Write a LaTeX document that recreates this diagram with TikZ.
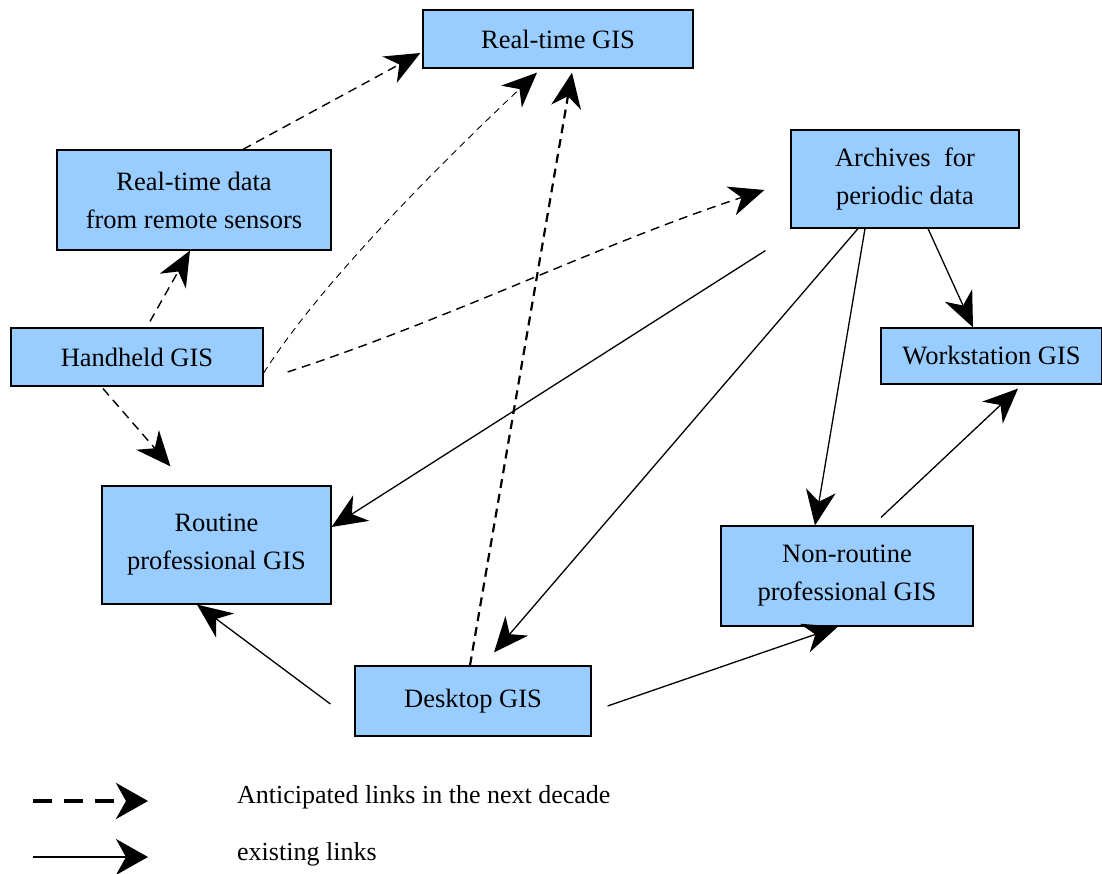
\documentclass[tikz,border=0pt]{standalone}
\usepackage{fontspec}
\setmainfont{Liberation Serif}
\usepackage{tikz}
\usetikzlibrary{arrows.meta,positioning,calc}
\definecolor{gisblue}{RGB}{153,204,255}

\begin{document}
\begin{tikzpicture}[x=1pt,y=1pt,
    gisbox/.style={rectangle,draw,line width=1.2pt,fill=gisblue,align=center,
        font=\fontsize{26.5}{38}\selectfont,inner sep=0pt},
    future/.style={dash pattern=on 9pt off 6pt,line width=1.4pt,
        -{Stealth[length=35pt,width=30pt,inset=11pt]}},
    futurethin/.style={dash pattern=on 7pt off 5pt,line width=0.9pt,
        -{Stealth[length=35pt,width=30pt,inset=11pt]}},
    existing/.style={line width=1.3pt,-{Stealth[length=35pt,width=30pt,inset=11pt]}}]
    \useasboundingbox (0,0) rectangle (1102,874);

    % GIS boxes
    \node[gisbox,minimum width=270,minimum height=58] (rt) at (558,835) {Real-time GIS};
    \node[gisbox,minimum width=274,minimum height=100] (rtd) at (194,674) {Real-time data\\from remote sensors};
    \node[gisbox,minimum width=228,minimum height=98] (arch) at (905,695) {Archives \ for\\periodic data};
    \node[gisbox,minimum width=252,minimum height=58] (hand) at (137,517) {Handheld GIS};
    \node[gisbox,minimum width=221,minimum height=56] (work) at (991.5,518) {Workstation GIS};
    \node[gisbox,minimum width=229,minimum height=118] (rout) at (216.5,329) {Routine\\professional GIS};
    \node[gisbox,minimum width=252,minimum height=100] (nonr) at (847,298) {Non-routine\\professional GIS};
    \node[gisbox,minimum width=236,minimum height=70] (desk) at (473,173) {Desktop GIS};

    % Anticipated links (dashed)
    \draw[future] ([xshift=49]rtd.north) -- ([xshift=-2,yshift=-14]rt.west);
    \draw[future] ([xshift=13,yshift=6]hand.north) -- ([xshift=-4]rtd.south);
    \draw[futurethin] ([yshift=-16]hand.east) .. controls (320,590) and (440,710) .. ([xshift=-21,yshift=-4]rt.south);
    \draw[future] ([xshift=24,yshift=-15]hand.east) .. controls (450,555) and (600,630) .. ([xshift=-26,yshift=-11]arch.west);
    \draw[future] ([xshift=-34,yshift=-2]hand.south) -- ([xshift=-46,yshift=19]rout.north);
    \draw[future,line width=2.2pt] ([xshift=-3]desk.north) -- ([xshift=14,yshift=-4]rt.south);

    % Existing links
    \draw[existing] ([xshift=-25,yshift=-22]arch.south west) -- ([yshift=18]rout.east);
    \draw[existing] ([xshift=-47]arch.south) -- ([xshift=21,yshift=13]desk.north);
    \draw[existing] ([xshift=-40]arch.south) -- ([xshift=-32]nonr.north);
    \draw[existing] ([xshift=23]arch.south) -- ([xshift=-18.5]work.north);
    \draw[existing] ([xshift=34,yshift=8]nonr.north) -- ([xshift=26.5,yshift=-4]work.south);
    \draw[existing] ([xshift=-24,yshift=-3]desk.west) -- ([xshift=-19.5]rout.south);
    \draw[existing] ([xshift=16,yshift=-5]desk.east) -- ([xshift=-9]nonr.south);

    % Legend
    \coordinate (k1a) at (33,73);
    \coordinate (k1b) at (148,73);
    \coordinate (k2a) at (33,17);
    \coordinate (k2b) at (148,17);
    \draw[dash pattern=on 19pt off 12pt,line width=4.5pt,
        -{Stealth[length=32pt,width=36pt,inset=10pt]}] (k1a) -- (k1b);
    \draw[line width=1.6pt,-{Stealth[length=32pt,width=36pt,inset=10pt]}] (k2a) -- (k2b);
    \node[anchor=west,font=\fontsize{26}{30}\selectfont,inner sep=0pt] (key1) at (237,77) {Anticipated links in the next decade};
    \node[anchor=west,font=\fontsize{26}{30}\selectfont,inner sep=0pt] (key2) at (237,20) {existing links};
\end{tikzpicture}
\end{document}
